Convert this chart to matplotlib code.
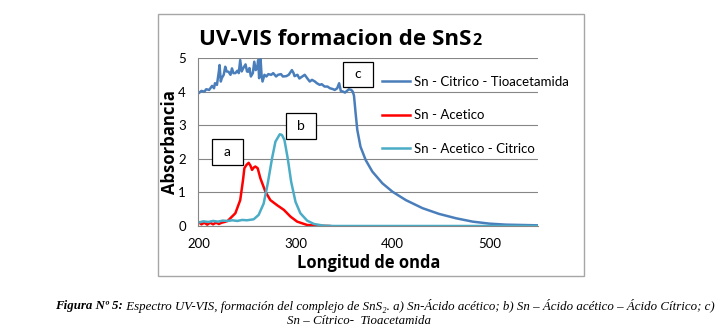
import matplotlib
matplotlib.use("Agg")
import matplotlib.pyplot as plt
from matplotlib.patches import Rectangle

# ---------------- data ----------------
c_x = [200, 203, 206, 208, 211, 214, 216, 217, 219, 221, 221.7, 223, 224, 226, 227.6, 229, 231, 233,
       234.5, 236, 238, 240, 241.5, 243, 244.5, 246, 248.5, 250, 251, 252.5, 254, 256, 257.5, 259,
       260.5, 261.5, 262.5, 264, 265, 266, 268, 270, 272, 275, 277, 280, 282, 285, 287, 290.5, 293,
       296.3, 298, 299, 302, 304, 307, 309.5, 312, 314.7, 317, 320, 322, 325, 327, 330, 333, 335.5,
       338, 340.5, 343, 345, 346.7, 349, 351, 353, 355, 357.5, 359, 360.3, 362, 363.7, 367, 372.4,
       379.2, 389.6, 400, 413.8, 431, 448, 465.5, 482.6, 500, 517, 550]
c_y = [3.95, 4.02, 4.0, 4.07, 4.05, 4.17, 4.1, 4.25, 4.2, 4.6, 4.79, 4.3, 4.4, 4.5, 4.74, 4.6, 4.59, 4.5,
       4.69, 4.55, 4.55, 4.62, 4.55, 4.94, 4.6, 4.69, 4.81, 4.6, 4.59, 4.7, 4.45, 4.55, 4.89, 4.64,
       4.7, 4.94, 4.4, 4.97, 4.5, 4.3, 4.5, 4.45, 4.52, 4.5, 4.55, 4.45, 4.5, 4.52, 4.45, 4.46, 4.5,
       4.64, 4.55, 4.46, 4.5, 4.39, 4.45, 4.5, 4.4, 4.3, 4.35, 4.3, 4.25, 4.2, 4.22, 4.15, 4.15, 4.1,
       4.08, 4.05, 4.1, 4.25, 4.02, 4.0, 3.97, 4.02, 4.07, 4.05, 4.0, 3.88, 3.35, 2.86, 2.36, 1.96,
       1.62, 1.27, 1.02, 0.77, 0.53, 0.36, 0.23, 0.13, 0.07, 0.04, 0.02]

a_x = [200, 203, 206, 209, 212, 215, 218, 221, 224, 227, 230, 232.8, 238, 243, 245.9, 247.3, 249.5,
       251.7, 253.5, 255.2, 257, 258.6, 261, 263.8, 269, 274.1, 281, 288, 294.8, 301.7, 312, 322, 335]
a_y = [0.12, 0.05, 0.1, 0.04, 0.1, 0.05, 0.1, 0.06, 0.1, 0.12, 0.15, 0.23, 0.38, 0.77, 1.37, 1.72, 1.82,
       1.88, 1.8, 1.67, 1.74, 1.77, 1.72, 1.42, 1.02, 0.77, 0.62, 0.48, 0.28, 0.13, 0.03, 0.01, 0.0]

b_x = [200, 205, 210, 215, 220, 225, 230, 235, 240, 245, 250, 256.9, 262, 267.2, 271.4, 275.8, 279.3,
       283.8, 286, 288.6, 292, 295.5, 300, 305, 312, 319, 329, 340, 550]
b_y = [0.1, 0.14, 0.12, 0.15, 0.13, 0.16, 0.15, 0.17, 0.15, 0.18, 0.17, 0.2, 0.33, 0.67, 1.27, 2.01, 2.51,
       2.73, 2.71, 2.56, 2.01, 1.32, 0.72, 0.38, 0.16, 0.06, 0.01, 0.0, 0.0]

series_labels = ["Sn - Citrico - Tioacetamida", "Sn - Acetico", "Sn - Acetico - Citrico"]
x_ticks = [200, 300, 400, 500]
y_ticks = [0, 1, 2, 3, 4, 5]
box_labels = ["a", "b", "c"]
box_x0 = [213.8, 289.7, 349.0]
box_x1 = [245.8, 320.7, 380.0]
box_y0 = [1.82, 2.58, 4.15]
box_y1 = [2.58, 3.35, 4.89]

# ---------------- figure ----------------
W, H = 728, 333
fig = plt.figure(figsize=(W / 100, H / 100), dpi=100)
FONT = "Lato"
BOLDFONT = "Open Sans"
renderer = fig.canvas.get_renderer()

def fx(px):
    return px / W

def fy(py):
    return 1 - py / H

def fit(t, target, vertical=False):
    for _ in range(3):
        bb = t.get_window_extent(renderer)
        cur = bb.height if vertical else bb.width
        t.set_fontsize(t.get_fontsize() * target / cur)

# chart frame
fig.add_artist(Rectangle((fx(158), fy(276)), fx(584) - fx(158), fy(14) - fy(276),
                         transform=fig.transFigure, fill=False, edgecolor="#a6a6a6", lw=1.0))

ax = fig.add_axes([fx(198.5), fy(226), fx(538) - fx(198.5), fy(58) - fy(226)])
ax.set_xlim(200, 550)
ax.set_ylim(0, 5)
for s in ["top", "right"]:
    ax.spines[s].set_visible(False)
for s in ["left", "bottom"]:
    ax.spines[s].set_color("#868686")
    ax.spines[s].set_linewidth(0.8)
ax.set_xticks(x_ticks)
ax.set_yticks(y_ticks)
ax.tick_params(length=0, labelsize=9.5, pad=9)
for lab in ax.get_xticklabels() + ax.get_yticklabels():
    lab.set_family(FONT)
ax.grid(axis="y", color="#868686", lw=0.8)
ax.set_axisbelow(True)

col_c, col_a, col_b = "#4a7ebb", "#ff0000", "#4bacc6"
l_c, = ax.plot(c_x, c_y, color=col_c, lw=1.8, label=series_labels[0])
l_a, = ax.plot(a_x, a_y, color=col_a, lw=1.8, label=series_labels[1])
l_b, = ax.plot(b_x, b_y, color=col_b, lw=1.8, label=series_labels[2])

for lab, x0, x1, y0, y1 in zip(box_labels, box_x0, box_x1, box_y0, box_y1):
    ax.add_patch(Rectangle((x0, y0), x1 - x0, y1 - y0, fc="white", ec="black", lw=0.9, zorder=5))
    ax.text((x0 + x1) / 2, (y0 + y1) / 2, lab, ha="center", va="center", fontsize=10,
            family=FONT, zorder=6)

fig.legend(handles=[l_c, l_a, l_b], loc="upper left",
           bbox_to_anchor=(fx(382), fy(76)), bbox_transform=fig.transFigure,
           frameon=False, prop={"family": FONT, "size": 9.5},
           handlelength=2.1, handletextpad=0.3, labelspacing=1.62, borderpad=0, borderaxespad=0)

# title
t = fig.text(fx(199), fy(45), "UV-VIS formacion de SnS", fontsize=15, fontweight="bold",
             family=BOLDFONT, ha="left", va="baseline")
fit(t, 272)
bb = t.get_window_extent(renderer)
fig.text(bb.x1 / W + 0.001, fy(45), "2", fontsize=t.get_fontsize() * 0.72, fontweight="bold",
         family=BOLDFONT, ha="left", va="baseline")

# axis labels
xl = fig.text(fx(368.5), fy(263), "Longitud de onda", fontsize=11, fontweight="bold",
              family=BOLDFONT, ha="center", va="center")
fit(xl, 143)
yl = fig.text(fx(170), fy(142.5), "Absorbancia", fontsize=11, fontweight="bold", family=BOLDFONT,
              ha="center", va="center", rotation=90)
fit(yl, 105, vertical=True)

# caption
SERIF = "Liberation Serif"
cap_parts = [("Figura Nº 5:", "bold"),
             (" Espectro UV-VIS, formación del complejo de SnS\u2082. a) Sn-Ácido acético; b) Sn – Ácido acético – Ácido Cítrico; c)", "normal")]
CAP_SIZE = 9.0
sizes = []
cap_texts = []
for txt, wt in cap_parts:
    tt = fig.text(0, fy(306), txt, fontsize=CAP_SIZE, fontweight=wt, style="italic", family=SERIF,
                  ha="left", va="center")
    cap_texts.append(tt)
    sizes.append(tt.get_window_extent(renderer).width)
total = sum(sizes)
scale = 655 / total
sizes = []
for tt in cap_texts:
    tt.set_fontsize(CAP_SIZE * scale)
    sizes.append(tt.get_window_extent(renderer).width)
x0 = 384.5 - sum(sizes) / 2
for tt, w in zip(cap_texts, sizes):
    tt.set_x(x0 / W)
    x0 += w
fig.text(fx(359), fy(321), "Sn – Cítrico-  Tioacetamida", fontsize=CAP_SIZE * scale, style="italic",
         family=SERIF, ha="center", va="center")

fig.savefig("out.png", dpi=100)
